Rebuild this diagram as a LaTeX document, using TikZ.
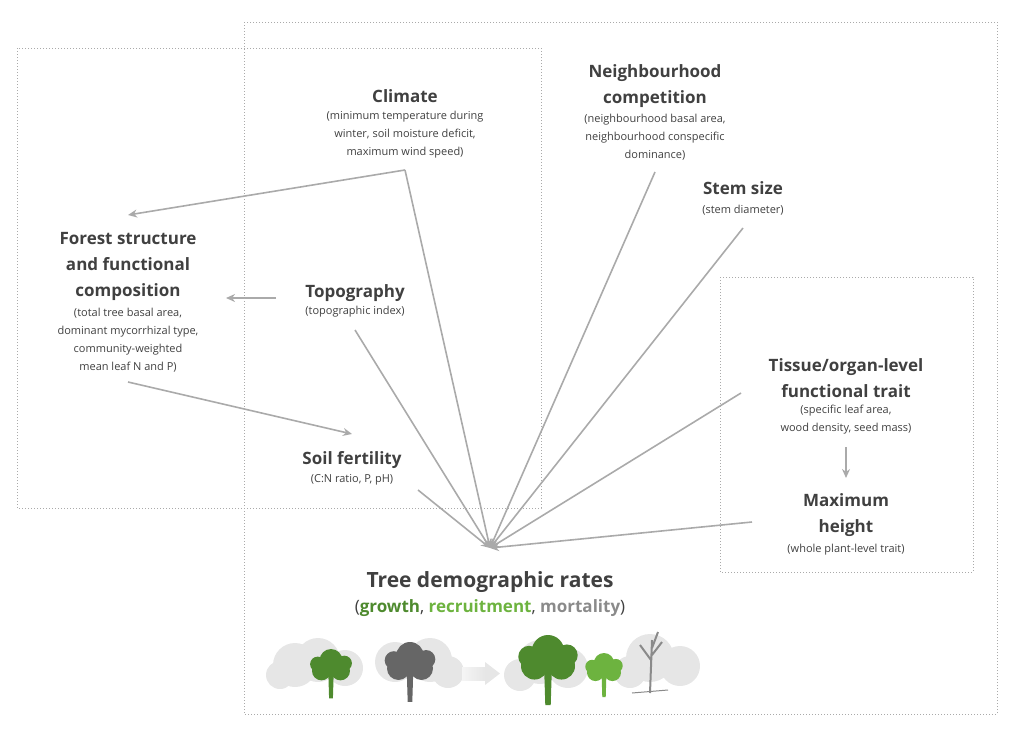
\documentclass[tikz,border=0pt]{standalone}
\usepackage{fontspec}
\setmainfont{Open Sans}
\usetikzlibrary{arrows.meta}
\definecolor{txt}{HTML}{404040}
\definecolor{ln}{HTML}{AAAAAA}
\definecolor{gA}{HTML}{4E8A2E}
\definecolor{gB}{HTML}{6DB33F}
\definecolor{gM}{HTML}{8A8A8A}
\definecolor{bg}{HTML}{E6E6E6}
\begin{document}
\begin{tikzpicture}[x=1pt,y=-1pt,
  ttl/.style={font=\fontsize{17}{26}\selectfont\bfseries,text=txt,align=center},
  sub/.style={font=\fontsize{11}{18}\selectfont,text=txt,align=center},
  box/.style={draw=ln,dotted,line width=1pt},
  con/.style={draw=ln,line width=1.6pt,-{Stealth[length=9pt,width=8pt]}},
  pl/.style={draw=ln,line width=1.6pt}]
\useasboundingbox (0,0) rectangle (1024,728);
\draw[box] (17,48) rectangle (541,508);
\draw[box] (244,22) rectangle (997,714);
\draw[box] (720,277) rectangle (973,572);
\coordinate (T) at (490,548);
\node[ttl] (clim) at (405,96) {Climate};
\node[sub,anchor=north] (climS) at (405,108) {(minimum temperature during\\winter, soil moisture deficit,\\maximum wind speed)};
\node[ttl] (nb) at (655,86) {Neighbourhood\\competition};
\node[sub,anchor=north] (nbS) at (655,111) {(neighbourhood basal area,\\neighbourhood conspecific\\dominance)};
\node[ttl] (st) at (743,188) {Stem size};
\node[sub] (stS) at (743,210) {(stem diameter)};
\node[ttl] (fs) at (128,266) {Forest structure\\and functional\\composition};
\node[sub,anchor=north] (fsS) at (128,305) {(total tree basal area,\\dominant mycorrhizal type,\\community-weighted\\mean leaf N and P)};
\node[ttl] (tp) at (355,293) {Topography};
\node[sub] (tpS) at (355,312) {(topographic index)};
\node[ttl] (ti) at (846,378) {Tissue/organ-level\\functional trait};
\node[sub,anchor=north] (tiS) at (846,402) {(specific leaf area,\\wood density, seed mass)};
\node[ttl] (mh) at (846,515) {Maximum\\height};
\node[sub] (mhS) at (846,550) {(whole plant-level trait)};
\node[ttl] (sf) at (352,460) {Soil fertility};
\node[sub] (sfS) at (352,480) {(C:N ratio, P, pH)};
\node[font=\fontsize{21}{25}\selectfont\bfseries,text=txt] (tdr) at (490,582) {Tree demographic rates};
\node[font=\fontsize{17}{20}\selectfont,text=txt] (tdrS) at (490,608) {(\textcolor{gA}{\textbf{growth}}, \textcolor{gB}{\textbf{recruitment}}, \textcolor{gM}{\textbf{mortality}})};
\coordinate (c1) at (405,170);
\coordinate (c2) at (655,172);
\coordinate (c3) at (743,228);
\coordinate (c4) at (741,393);
\coordinate (c5) at (752,522);
\coordinate (c6) at (355,330);
\coordinate (c7) at (418,490);
\coordinate (f1) at (128,215);
\draw[con] (c1) -- (f1);
\foreach \c in {c1,c2,c3,c4,c5,c6,c7} \draw[con] (\c) -- (T);
\coordinate (t1) at (276,298); \coordinate (t2) at (226,298);
\draw[con] (t1) -- (t2);
\coordinate (fa) at (128,382); \coordinate (fb) at (352,434);
\draw[con] (fa) -- (fb);
\coordinate (ma) at (846,447); \coordinate (mb) at (846,478);
\draw[con] (ma) -- (mb);
% trees
\foreach \x/\y/\r in {295/665/22,318/660/22,345/668/18,395/662/20,430/660/22,448/672/16,280/675/14,
  540/662/22,568/668/20,520/675/16,650/658/24,680/666/20,630/672/16}
  \fill[bg] (\x,\y) circle (\r);
\newcommand\mytree[4]{%
  \fill[#1] (#2-3*#4,#3) -- (#2+3*#4,#3) -- (#2+2*#4,#3+32*#4) -- (#2-2*#4,#3+32*#4) -- cycle;
  \fill[#1] (#2-10*#4,#3+3*#4) circle (10*#4) (#2+10*#4,#3+3*#4) circle (10*#4)
    (#2,#3-8*#4) circle (12*#4) (#2-14*#4,#3-4*#4) circle (8*#4) (#2+14*#4,#3-5*#4) circle (8*#4);}
\mytree{gA}{331}{668}{0.95}
\mytree{gray!80!black}{410}{665}{1.15}
\mytree{gA}{548}{662}{1.35}
\mytree{gB}{604}{670}{0.85}
\fill[left color=bg!40,right color=bg] (462,667) rectangle (485,680);
\fill[bg] (485,662) -- (500,673.5) -- (485,685) -- cycle;
\draw[gM,line width=2pt] (650,693) -- (652,640) (651,660) -- (640,645) (652,655) -- (662,642) (652,648) -- (658,632);
\draw[gM,line width=1pt] (632,693) -- (668,690);
\end{tikzpicture}
\end{document}
